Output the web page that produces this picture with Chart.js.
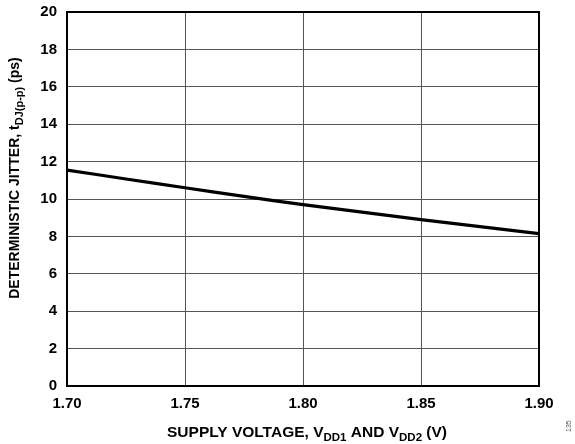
<!DOCTYPE html>
<html><head><meta charset="utf-8">
<script src="https://cdn.jsdelivr.net/npm/chart.js@4"></script>
<style>html,body{margin:0;padding:0;background:#fff}#w{width:575px;height:444px;position:relative}</style>
</head><body><div id="w"><canvas id="c" width="575" height="444"></canvas></div>
<script>
const supplyVoltage = [1.70, 1.725, 1.75, 1.775, 1.80, 1.825, 1.85, 1.875, 1.90];
const jitterPs = [11.55, 11.07, 10.6, 10.14, 9.7, 9.3, 8.9, 8.52, 8.15];
const xTicks = [1.70, 1.75, 1.80, 1.85, 1.90];
const yTicks = [0, 2, 4, 6, 8, 10, 12, 14, 16, 18, 20];

const FONT = '"Liberation Sans", Arial, sans-serif';

function drawSub(ctx, parts, x, y, mainSize, subSize) {
  const mainF = 'bold ' + mainSize + 'px ' + FONT, subF = 'bold ' + subSize + 'px ' + FONT;
  let total = 0;
  parts.forEach(p => { ctx.font = p[1] ? subF : mainF; total += ctx.measureText(p[0]).width; });
  let cx = x - total / 2;
  ctx.textAlign = 'left';
  ctx.textBaseline = 'alphabetic';
  parts.forEach(p => {
    ctx.font = p[1] ? subF : mainF;
    ctx.fillText(p[0], cx, y + (p[1] ? 3.5 : 0));
    cx += ctx.measureText(p[0]).width;
  });
}

const deco = {
  id: 'deco',
  afterDraw(chart) {
    const ctx = chart.ctx, a = chart.chartArea;
    ctx.save();
    ctx.strokeStyle = '#000'; ctx.lineWidth = 2;
    ctx.strokeRect(a.left, a.top, a.right - a.left, a.bottom - a.top);
    ctx.fillStyle = '#000';
    drawSub(ctx, [['SUPPLY VOLTAGE, V', false], ['DD1', true], [' AND V', false], ['DD2', true], [' (V)', false]], 307, 437, 15.5, 11.5);
    ctx.translate(19, 178);
    ctx.rotate(-Math.PI / 2);
    drawSub(ctx, [['DETERMINISTIC JITTER, t', false], ['DJ(p-p)', true], [' (ps)', false]], 0, 0, 14, 11);
    ctx.restore();
    ctx.save();
    ctx.translate(571, 432);
    ctx.rotate(-Math.PI / 2);
    ctx.font = '7px ' + FONT; ctx.fillStyle = '#555'; ctx.textAlign = 'left';
    ctx.fillText('135', 0, 0);
    ctx.restore();
  }
};

new Chart(document.getElementById('c'), {
  type: 'line',
  data: { datasets: [{
    data: supplyVoltage.map((v, i) => ({ x: v, y: jitterPs[i] })),
    borderColor: '#000', borderWidth: 3.2, pointRadius: 0, tension: 0.3, fill: false
  }]},
  options: {
    responsive: false, animation: false,
    layout: { padding: { top: 12, right: 36, left: 0, bottom: 0 } },
    plugins: { legend: { display: false }, tooltip: { enabled: false } },
    scales: {
      x: {
        type: 'linear', min: 1.70, max: 1.90,
        afterBuildTicks: s => { s.ticks = xTicks.map(v => ({ value: v })); },
        afterFit: s => { s.height = 58; s.paddingLeft = 0; s.paddingRight = 0; },
        grid: { color: '#555', lineWidth: 1, drawTicks: false },
        border: { display: false },
        ticks: { color: '#000', font: { family: FONT, weight: 'bold', size: 15 }, padding: 9, maxRotation: 0,
          callback: v => Number(v).toFixed(2) }
      },
      y: {
        min: 0, max: 20,
        afterBuildTicks: s => { s.ticks = yTicks.map(v => ({ value: v })); },
        afterFit: s => { s.width = 67; s.paddingTop = 0; s.paddingBottom = 0; },
        grid: { color: '#555', lineWidth: 1, drawTicks: false },
        border: { display: false },
        ticks: { color: '#000', font: { family: FONT, weight: 'bold', size: 15 }, padding: 10 }
      }
    }
  },
  plugins: [deco]
});
</script></body></html>
